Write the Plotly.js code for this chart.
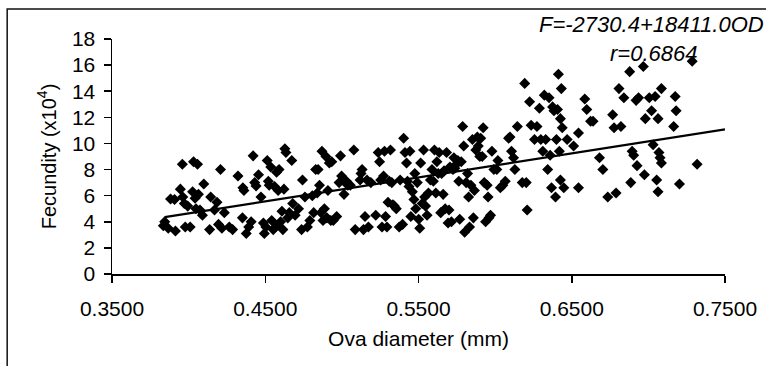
<!DOCTYPE html>
<html>
<head>
<meta charset="utf-8">
<script src="https://cdn.plot.ly/plotly-3.0.1.min.js"></script>
<style>html,body{margin:0;padding:0;background:#fff;}#chart{width:766px;height:366px;}</style>
</head>
<body>
<div id="chart"></div>
<script>
// Ova diameter (mm)
const ovaDiameter = [
0.3844,0.3835,0.3867,0.3882,0.3908,0.3914,0.3946,0.3959,0.3962,0.3972,0.3978,0.3994,0.4010,0.4026,0.4032,0.4042,0.4048,0.4058,0.4064,0.4074,0.4090,0.4099,0.4137,0.4144,0.4169,0.4185,0.4195,0.4208,0.4217,0.4233,0.4265,0.4287,
0.4322,0.4351,0.4354,0.4361,0.4376,0.4392,0.4408,0.4421,0.4431,0.4440,0.4456,0.4472,0.4488,0.4494,0.4504,0.4513,0.4520,0.4526,0.4536,0.4542,0.4552,0.4561,0.4568,0.4574,0.4584,0.4590,0.4600,0.4609,0.4615,0.4622,0.4628,0.4635,0.4647,0.4657,0.4673,0.4679,0.4695,0.4717,0.4743,0.4737,
0.4759,0.4775,0.4791,0.4807,0.4816,0.4829,0.4839,0.4845,0.4854,0.4864,0.4870,0.4877,0.4886,0.4896,0.4902,0.4909,0.4918,0.4928,0.4934,0.4944,0.4966,0.4982,0.4991,0.4998,0.5007,0.5014,0.5030,0.5039,0.5055,0.5078,0.5087,0.5119,0.5125,0.5132,0.5141,0.5151,0.5164,0.5173,0.5189,
0.5221,0.5237,0.5246,0.5253,0.5262,0.5272,0.5278,0.5285,0.5294,0.5301,0.5310,0.5317,0.5326,0.5333,0.5342,0.5355,0.5374,0.5380,0.5396,0.5403,0.5412,0.5422,0.5428,0.5438,0.5444,0.5450,0.5460,0.5470,0.5476,0.5482,0.5492,0.5501,0.5508,0.5514,0.5524,0.5533,0.5540,0.5546,0.5556,0.5565,0.5578,0.5588,0.5597,0.5604,0.5613,0.5620,0.5629,
0.5635,0.5645,0.5651,0.5661,0.5667,0.5674,0.5683,0.5693,0.5699,0.5705,0.5715,0.5725,0.5731,0.5737,0.5747,0.5757,0.5763,0.5769,0.5779,0.5788,0.5795,0.5801,0.5811,0.5820,0.5827,0.5833,0.5842,0.5852,0.5858,0.5865,0.5874,0.5884,0.5890,0.5900,0.5906,0.5916,0.5922,0.5929,0.5938,0.5948,0.5954,0.5960,0.5970,0.5979,0.5992,0.6011,0.6018,0.6034,0.6050,0.6066,
0.6088,0.6097,0.6107,0.6120,0.6129,0.6145,0.6177,0.6193,0.6203,0.6209,0.6225,0.6235,0.6257,0.6273,0.6289,0.6298,0.6311,0.6321,0.6330,0.6343,0.6352,0.6359,0.6368,0.6375,0.6384,0.6394,0.6400,0.6407,0.6413,0.6419,0.6426,0.6432,0.6426,0.6438,0.6448,0.6470,0.6512,
0.6544,0.6544,0.6585,0.6598,0.6623,0.6639,0.6681,0.6703,0.6735,0.6767,0.6776,0.6789,0.6808,0.6821,0.6840,0.6878,0.6885,0.6894,0.6904,0.6920,0.6926,0.6936,0.6967,0.6974,0.6980,0.7006,0.7021,0.7031,0.7044,0.7054,0.7063,0.7063,0.7069,0.7076,0.7085,0.7085,0.7165,0.7175,0.7181,0.7203,0.7286,0.7318
];
// Fecundity (x10^4)
const fecundity = [
4.0,3.7,3.5,5.75,5.7,3.3,6.5,8.4,5.9,5.4,3.6,5.2,3.6,6.3,8.6,5.8,5.0,8.4,6.1,4.9,4.5,6.9,3.4,5.9,4.9,5.5,3.8,8.0,3.5,4.7,3.6,3.4,
7.5,4.3,6.6,6.4,3.1,3.6,4.0,9.05,7.0,6.75,7.6,5.9,3.9,3.1,3.6,8.7,7.1,6.8,8.2,4.1,3.4,6.7,3.6,7.8,6.4,8.0,4.0,4.8,3.4,6.5,9.6,9.3,4.3,4.7,8.7,5.4,4.5,5.0,7.2,3.4,
5.9,3.6,4.1,6.0,4.7,8.0,6.2,8.0,6.8,4.7,9.4,4.1,5.0,9.0,4.3,6.4,8.5,4.1,8.6,4.1,4.4,7.0,9.05,7.5,7.2,6.1,7.1,6.8,6.8,9.5,3.4,7.2,7.7,8.0,3.4,4.4,7.2,3.6,7.0,
4.5,9.3,8.6,7.2,3.6,7.5,9.4,4.4,3.6,5.5,7.1,9.5,7.0,5.3,5.2,5.0,3.6,7.2,3.8,10.4,9.3,8.5,7.1,6.7,9.4,4.4,6.3,5.7,7.7,5.0,7.0,4.2,3.5,8.5,5.4,9.5,5.9,5.2,4.5,6.2,7.2,8.0,7.1,9.5,6.2,8.6,7.7,
9.3,4.7,7.7,6.1,7.9,5.0,9.3,3.9,4.9,8.2,4.0,8.0,8.9,8.1,8.4,8.7,7.1,4.2,8.6,11.3,9.8,3.2,7.0,7.7,5.9,3.6,6.8,10.3,4.3,6.4,9.5,10.5,9.8,9.0,10.4,9.0,11.2,7.0,4.0,6.8,5.9,4.3,4.5,9.4,8.0,8.0,8.7,6.6,6.8,7.1,
10.4,10.5,9.4,8.9,8.0,11.3,7.0,14.6,7.0,4.9,13.2,11.4,10.3,11.3,12.7,10.3,9.4,13.7,10.3,8.0,13.5,9.1,6.6,12.8,12.5,5.9,10.3,12.6,15.3,9.4,11.9,14.2,7.2,11.2,6.6,10.3,9.8,
10.8,6.6,13.4,12.6,11.7,11.7,8.9,8.0,5.9,12.2,11.2,6.2,14.2,11.3,13.5,15.5,7.0,9.4,9.1,13.3,8.3,13.5,15.9,7.6,11.9,13.5,12.5,9.9,13.6,7.2,11.9,6.3,9.3,8.9,14.2,8.5,11.3,13.6,12.5,6.9,16.3,8.4
];
// Fitted line end points
const fitX = [0.3844, 0.75];
const fitY = [4.35, 11.08];
const xTicks = [0.35, 0.45, 0.55, 0.65, 0.75];
const xTickText = ["0.3500", "0.4500", "0.5500", "0.6500", "0.7500"];
const yTicks = [0, 2, 4, 6, 8, 10, 12, 14, 16, 18];

const FONT = "Liberation Sans, Arial, sans-serif";

const traces = [
  {x: ovaDiameter, y: fecundity, type: "scatter", mode: "markers",
   marker: {symbol: "diamond", size: 8.5, color: "#000"}, hoverinfo: "x+y"},
  {x: fitX, y: fitY, type: "scatter", mode: "lines",
   line: {color: "#000", width: 2.2}}
];

const layout = {
  width: 766, height: 366,
  margin: {l: 112, r: 41, t: 39, b: 92},
  paper_bgcolor: "#fff", plot_bgcolor: "#fff",
  showlegend: false,
  font: {family: FONT, size: 21, color: "#000"},
  xaxis: {
    range: [0.35, 0.75], tickvals: xTicks, ticktext: xTickText,
    showgrid: false, zeroline: false, showline: true, linecolor: "#000", linewidth: 1.5,
    ticks: "outside", ticklen: 7, tickwidth: 1.5, tickcolor: "#000",
    tickfont: {family: FONT, size: 21, color: "#000"},
    ticklabelstandoff: 8,
    title: {text: "Ova diameter (mm)", font: {family: FONT, size: 21, color: "#000"}, standoff: 12}
  },
  yaxis: {
    range: [0, 18], tickvals: yTicks,
    showgrid: false, zeroline: false, showline: true, linecolor: "#000", linewidth: 1.5,
    ticks: "outside", ticklen: 7, tickwidth: 1.5, tickcolor: "#000",
    tickfont: {family: FONT, size: 21, color: "#000"},
    ticklabelstandoff: 4,
    title: {text: "Fecundity (x10<sup>4</sup>)", font: {family: FONT, size: 20, color: "#000"}, standoff: 10}
  },
  shapes: [
    {type: "rect", xref: "paper", yref: "paper", x0: -0.171, x1: 1.2, y0: -0.5, y1: 1.128,
     line: {color: "#111", width: 1.5}, fillcolor: "rgba(0,0,0,0)", layer: "below"}
  ],
  annotations: [
    {xref: "paper", yref: "paper", x: 0.693, y: 1.06, xanchor: "left", yanchor: "middle",
     text: "<i>F=-2730.4+18411.0OD</i>", showarrow: false,
     font: {family: FONT, size: 22, color: "#000"}},
    {xref: "paper", yref: "paper", x: 0.883, y: 0.94, xanchor: "center", yanchor: "middle",
     text: "<i>r=0.6864</i>", showarrow: false,
     font: {family: FONT, size: 22, color: "#000"}}
  ]
};

Plotly.newPlot("chart", traces, layout, {displayModeBar: false, staticPlot: true});
</script>
</body>
</html>
